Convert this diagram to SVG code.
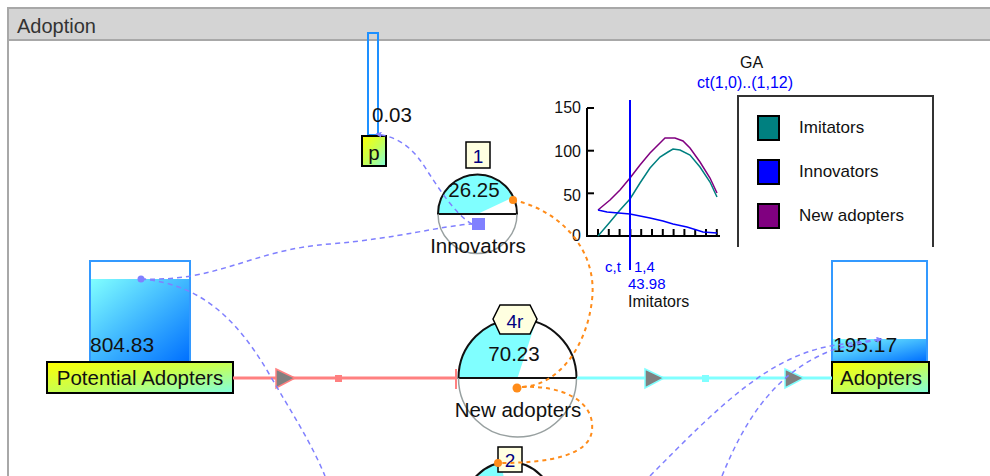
<svg xmlns="http://www.w3.org/2000/svg" width="990" height="476" viewBox="0 0 990 476">
<defs>
<style>
text{font-family:"Liberation Sans",Arial,sans-serif;}
.big{font-size:20.5px;fill:#111;}
.lab{font-size:17px;fill:#111;}
.num{font-size:19px;fill:#000080;text-anchor:middle;}
.inf{fill:none;stroke:#8080ff;stroke-width:1.5;stroke-dasharray:5 4;}
.org{fill:none;stroke:#ff8c1a;stroke-width:2;stroke-dasharray:4 4;}
.tag{fill:#ffffe0;stroke:#000;stroke-width:1.5;}
.upper{fill:none;stroke:#111;stroke-width:2;}
.lower{fill:none;stroke:#98a0a0;stroke-width:1.5;}
.pie{fill:#80ffff;stroke:none;}
.ax{stroke:#000;stroke-width:2;fill:none;}
.sw{stroke:#000;stroke-width:2;}
</style>
<linearGradient id="stockG" x1="0" y1="0" x2="1" y2="1"><stop offset="0" stop-color="#80ffff"/><stop offset="1" stop-color="#0070ff"/></linearGradient>
<linearGradient id="labelG" x1="0" y1="0" x2="1" y2="1"><stop offset="0" stop-color="#ffff00"/><stop offset="0.5" stop-color="#c8ff50"/><stop offset="1" stop-color="#80ffe0"/></linearGradient>
<marker id="arrB" viewBox="0 0 10 10" refX="9" refY="5" markerWidth="6" markerHeight="6" orient="auto" markerUnits="userSpaceOnUse"><path d="M0,0 L10,5 L0,10 Z" fill="#8080ff"/></marker>
</defs>

<rect x="0" y="0" width="990" height="476" fill="#fff"/>
<g id="frame">
<rect x="7" y="7" width="983" height="34" fill="#d4d4d4"/>
<line x1="7" y1="8" x2="990" y2="8" stroke="#a8a8a8" stroke-width="2"/>
<line x1="7" y1="40" x2="990" y2="40" stroke="#a8a8a8" stroke-width="2"/>
<line x1="8" y1="7" x2="8" y2="476" stroke="#a8a8a8" stroke-width="2"/>
<text x="17" y="33" style="font-size:20px;fill:#333">Adoption</text>
</g>

<g id="p">
<rect x="368" y="33" width="10" height="102" fill="none" stroke="#1e90ff" stroke-width="2"/>
<rect x="362" y="136" width="24" height="30" fill="url(#labelG)" stroke="#000" stroke-width="2"/>
<text x="374" y="160" class="big" text-anchor="middle">p</text>
<text x="372" y="122" class="big">0.03</text>
</g>

<g id="potential-adopters">
<rect x="90" y="261" width="100" height="101" fill="#fff" stroke="#3399ff" stroke-width="2"/>
<rect x="91" y="279" width="98" height="82" fill="url(#stockG)"/>
<text x="90" y="352" style="font-size:21px;fill:#111">804.83</text>
<rect x="47" y="362" width="186" height="31" fill="url(#labelG)" stroke="#000" stroke-width="2"/>
<text x="140" y="385" class="big" text-anchor="middle">Potential Adopters</text>
</g>

<g id="adopters">
<rect x="832" y="261" width="95" height="101" fill="#fff" stroke="#3399ff" stroke-width="2"/>
<rect x="833" y="339" width="93" height="22" fill="url(#stockG)"/>
<text x="833" y="352" style="font-size:21px;fill:#111">195.17</text>
<rect x="832" y="362" width="97" height="31" fill="url(#labelG)" stroke="#000" stroke-width="2"/>
<text x="881" y="385" class="big" text-anchor="middle">Adopters</text>
</g>

<g id="innovators">
<path class="pie" d="M477.5,214 L438,214 A39.5,39.5 0 0 1 513.3,197.3 Z"/>
<path class="upper" d="M438,214 A39.5,39.5 0 0 1 517,214 Z"/>
<path class="lower" d="M438,214 A39.5,39.5 0 0 0 517,214"/>
<rect x="472" y="218" width="13" height="12" fill="#8080ff"/>
<rect x="466" y="142" width="24" height="26" class="tag"/>
<text x="478" y="163" class="num">1</text>
<text x="474" y="197" class="big" text-anchor="middle">26.25</text>
<text x="478" y="253" class="big" text-anchor="middle">Innovators</text>
</g>

<g id="new-adopters">
<path class="pie" d="M517.5,378 L458.5,378 A59,59 0 0 1 535.7,321.9 Z"/>
<path class="upper" d="M458.5,378 A59,59 0 0 1 576.5,378 Z"/>
<path class="lower" d="M458.5,378 A59,59 0 0 0 576.5,378"/>
<polygon points="493,319 500,305 530,305 537,319 530,334 500,334" class="tag"/>
<text x="515" y="328" class="num">4r</text>
<text x="514" y="361" class="big" text-anchor="middle">70.23</text>
<text x="518" y="417" class="big" text-anchor="middle">New adopters</text>
</g>

<g id="imitators">
<path class="pie" d="M509,507 L464,507 A45,45 0 0 1 501.2,462.7 Z"/>
<path class="upper" d="M464,507 A45,45 0 0 1 554,507"/>
<rect x="498" y="447" width="24" height="25" class="tag"/>
<text x="510" y="467" class="num">2</text>
</g>

<g id="graph">
<text x="740" y="68" style="font-size:16px;fill:#111">GA</text>
<text x="697" y="88" style="font-size:16px;fill:#0000ff">ct(1,0)..(1,12)</text>
<path class="ax" d="M587,108 L587,236 L720,236"/>
<g stroke="#000" stroke-width="2">
<line x1="587" y1="108" x2="594" y2="108"/><line x1="587" y1="150.7" x2="594" y2="150.7"/><line x1="587" y1="193.3" x2="594" y2="193.3"/>
<line x1="598" y1="236" x2="598" y2="229"/><line x1="608.8" y1="236" x2="608.8" y2="229"/><line x1="619.6" y1="236" x2="619.6" y2="229"/><line x1="630.4" y1="236" x2="630.4" y2="229"/><line x1="641.2" y1="236" x2="641.2" y2="229"/><line x1="652" y1="236" x2="652" y2="229"/><line x1="662.8" y1="236" x2="662.8" y2="229"/><line x1="673.6" y1="236" x2="673.6" y2="229"/><line x1="684.4" y1="236" x2="684.4" y2="229"/><line x1="695.2" y1="236" x2="695.2" y2="229"/><line x1="706" y1="236" x2="706" y2="229"/><line x1="716.8" y1="236" x2="716.8" y2="229"/>
</g>
<g style="font-size:16px;fill:#111" text-anchor="end">
<text x="581" y="113">150</text><text x="581" y="157">100</text><text x="581" y="201">50</text><text x="581" y="241">0</text>
</g>
<polyline fill="none" stroke="#008080" stroke-width="1.5" points="598,236 610,222 620,210 630,199 640,183 650,168 660,157 668,152 673,149 680,150 690,155 700,167 710,182 717,197"/>
<polyline fill="none" stroke="#800080" stroke-width="1.5" points="598,210 610,200 620,190 630,178 640,165 650,153 660,143 665,138 675,138 683,141 690,148 700,162 710,178 717,193"/>
<polyline fill="none" stroke="#0000ff" stroke-width="1.5" points="598,210 607,212 630,214 650,218 663,221 673,224 687,227 703,232 717,233"/>
<line x1="630" y1="100" x2="630" y2="270" stroke="#0000ff" stroke-width="2"/>
<text x="605" y="272" style="font-size:15px;fill:#0000ff">c,t <tspan x="634">1,4</tspan></text>
<text x="628" y="288.5" style="font-size:15px;fill:#0000ff">43.98</text>
<text x="628" y="307" style="font-size:16px;fill:#111">Imitators</text>
<path d="M738,247 L738,96 L933,96 L933,247" fill="none" stroke="#333" stroke-width="2"/>
<rect x="758" y="116" width="21" height="24" fill="#008080" class="sw"/>
<rect x="758" y="160" width="21" height="24" fill="#0000ff" class="sw"/>
<rect x="758" y="204" width="21" height="24" fill="#800080" class="sw"/>
<text x="799" y="133" class="lab">Imitators</text>
<text x="799" y="177" class="lab">Innovators</text>
<text x="799" y="221" class="lab">New adopters</text>
</g>

<g id="connectors">
<line x1="233" y1="378" x2="456" y2="378" stroke="#ff8080" stroke-width="3"/>
<line x1="456" y1="369" x2="456" y2="389" stroke="#ff8080" stroke-width="2"/>
<polygon points="276,369 295,378 276,388" fill="#808080" stroke="#ff8080" stroke-width="1.5"/>
<rect x="335" y="375" width="7" height="7" fill="#ff8080"/>
<line x1="577" y1="378" x2="832" y2="378" stroke="#80ffff" stroke-width="3"/>
<polygon points="645,369 664,378 645,388" fill="#808080" stroke="#80ffff" stroke-width="1.5"/>
<rect x="702" y="375" width="7" height="7" fill="#80ffff"/>
<polygon points="785,369 804,378 785,388" fill="#808080" stroke="#80ffff" stroke-width="1.5"/>
<path class="inf" d="M472,224 C455,214 440,190 428,172 C416,152 402,137 376,134" marker-end="url(#arrB)"/>
<path class="inf" d="M141,279 C220,282 250,250 330,244 C400,238 440,226 472,224"/>
<path class="inf" d="M141,279 C205,284 240,325 268,372 C290,410 310,440 325,476"/>
<circle cx="141" cy="279" r="3.5" fill="#8080ff"/>
<path class="inf" d="M650,476 C720,405 770,355 836,345 L882,339" marker-end="url(#arrB)"/>
<path class="inf" d="M722,476 C745,420 775,370 838,348 L882,339"/>
<path class="org" d="M513,200 C560,210 598,250 592,300 C587,345 560,385 522,387"/>
<path class="org" d="M522,387 C560,385 595,400 592,430 C590,455 550,463 500,463"/>
<circle cx="513" cy="200" r="4" fill="#ff8c1a"/>
<circle cx="517" cy="388" r="4.5" fill="#ff8c1a"/>
<circle cx="498" cy="463" r="4" fill="#ff8c1a"/>
</g>
</svg>
